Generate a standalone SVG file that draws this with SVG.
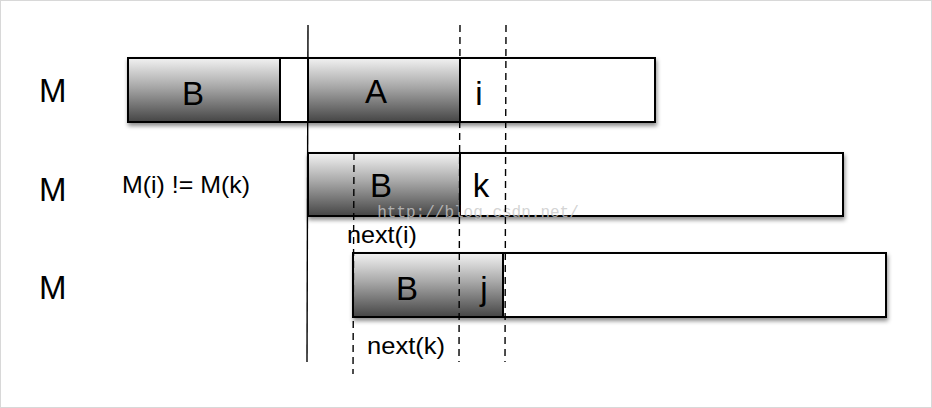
<svg xmlns="http://www.w3.org/2000/svg" width="932" height="408" viewBox="0 0 932 408">
<defs>
<linearGradient id="g" x1="0" y1="0" x2="0" y2="1">
<stop offset="0" stop-color="#f2f2f2"/>
<stop offset="0.45" stop-color="#a8a8a8"/>
<stop offset="1" stop-color="#454545"/>
</linearGradient>
<filter id="sh" x="-5%" y="-20%" width="110%" height="150%">
<feDropShadow dx="1" dy="3" stdDeviation="2" flood-color="#000" flood-opacity="0.45"/>
</filter>
</defs>
<style>
.box{fill:#fff;stroke:#000;stroke-width:2}
.gr{fill:url(#g);stroke:#000;stroke-width:2}
.t{font-family:"Liberation Sans",Arial,sans-serif;fill:#000}
.big{font-size:33px}
.mid{font-size:24px}
.dash{stroke:#000;stroke-width:1.4;stroke-dasharray:7,5;fill:none}
.solid{stroke:#000;stroke-width:1.4;fill:none}
</style>
<rect x="0.5" y="0.5" width="931" height="407" fill="#fff" stroke="#d8d8d8"/>
<g id="labels">
<text class="t big" x="39" y="102">M</text>
<text class="t big" x="39" y="201">M</text>
<text class="t big" x="39" y="299">M</text>
<text class="t mid" x="122" y="193" textLength="128" lengthAdjust="spacingAndGlyphs">M(i) != M(k)</text>
</g>
<g id="row1">
<rect class="box" x="128" y="58" width="527" height="64" filter="url(#sh)"/>
<rect class="gr" x="128" y="58" width="152" height="64"/>
<rect class="gr" x="308" y="58" width="152" height="64"/>
<text class="t big" x="193" y="105" text-anchor="middle">B</text>
<text class="t big" x="376" y="103" text-anchor="middle">A</text>
<text class="t big" x="479" y="105" text-anchor="middle">i</text>
</g>
<g id="row2">
<rect class="box" x="308" y="153" width="535" height="63" filter="url(#sh)"/>
<rect class="gr" x="308" y="153" width="152" height="63"/>
<text class="t big" x="381" y="197" text-anchor="middle">B</text>
<text class="t big" x="481" y="197" text-anchor="middle">k</text>
</g>
<g id="row3">
<rect class="box" x="353" y="253" width="533" height="64" filter="url(#sh)"/>
<rect class="gr" x="353" y="253" width="150" height="64"/>
<text class="t big" x="407" y="300" text-anchor="middle">B</text>
<text class="t big" x="484" y="300" text-anchor="middle">j</text>
</g>
<text x="478" y="217" text-anchor="middle" font-family="'Liberation Mono','DejaVu Sans Mono',monospace" font-size="16" fill="#c8c8c8" fill-opacity="0.8">http://blog.csdn.net/</text>
<g id="connectors">
<line class="solid" x1="308" y1="25" x2="307" y2="362"/>
<line class="dash" x1="460" y1="25" x2="459" y2="362"/>
<line class="dash" x1="506" y1="25" x2="505" y2="362"/>
<line class="dash" x1="354" y1="153" x2="353" y2="374"/>
</g>
<g id="notes">
<text class="t mid" x="347" y="243" textLength="70" lengthAdjust="spacingAndGlyphs">next(i)</text>
<text class="t mid" x="367" y="354" textLength="78" lengthAdjust="spacingAndGlyphs">next(k)</text>
</g>
</svg>
